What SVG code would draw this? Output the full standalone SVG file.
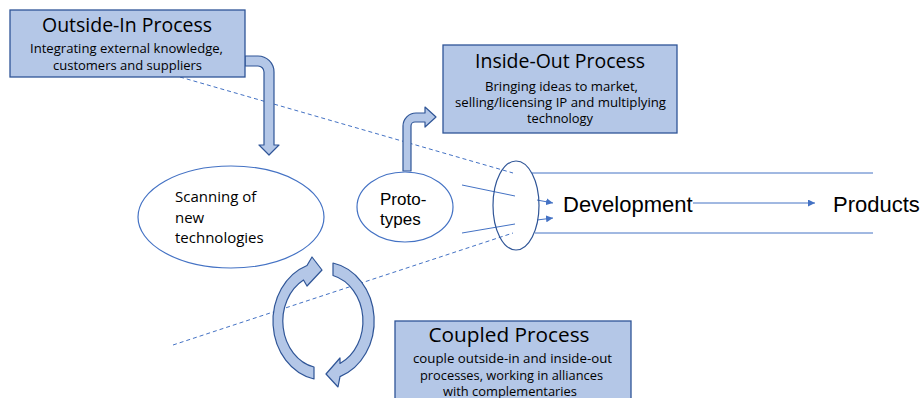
<svg xmlns="http://www.w3.org/2000/svg" width="922" height="398" viewBox="0 0 922 398">
<defs>
<style>
.box{fill:#B4C7E7;stroke:#2F5597;stroke-width:1.3}
.thick{fill:#B4C7E7;stroke:#2F5597;stroke-width:1.2;stroke-linejoin:round}
.ell{fill:#fff;stroke:#4472C4;stroke-width:1.2}
.ln{stroke:#4472C4;stroke-width:1;fill:none}
.dash{stroke:#4472C4;stroke-width:1;fill:none;stroke-dasharray:4 3}
.ttl{font-family:"Open Sans","Liberation Sans",sans-serif;font-size:20px;fill:#000;text-anchor:middle}
.sub{font-family:"Open Sans","Liberation Sans",sans-serif;font-size:12px;fill:#000;text-anchor:middle}
.cal{font-family:"Open Sans","Liberation Sans",sans-serif;font-size:15px;fill:#000}
.ar{font-family:"Liberation Sans",Arial,sans-serif;fill:#000}
</style>
<marker id="ah" viewBox="0 0 10 10" refX="10" refY="5" markerWidth="7" markerHeight="7" markerUnits="userSpaceOnUse" orient="auto">
<path d="M0,0 L10,5 L0,10 Z" fill="#4472C4"/>
</marker>
</defs>
<rect width="922" height="398" fill="#fff"/>

<g id="connectors">
<line class="dash" x1="180" y1="77" x2="513" y2="173"/>
<line class="dash" x1="173" y1="345" x2="513" y2="233"/>
<line class="ln" x1="462" y1="185" x2="515" y2="196"/>
<line class="ln" x1="462" y1="233" x2="515" y2="224"/>
<line class="ln" x1="532" y1="173" x2="873" y2="173"/>
<line class="ln" x1="535" y1="233" x2="873" y2="233"/>
<line class="ln" x1="537" y1="200" x2="553" y2="203" marker-end="url(#ah)"/>
<line class="ln" x1="537" y1="220" x2="553" y2="218" marker-end="url(#ah)"/>
<line class="ln" x1="693" y1="203" x2="815" y2="203" marker-end="url(#ah)"/>
<path id="outside-in-arrow" class="thick" d="M245,56 H258 A16,16 0 0 1 274,72 V145 H279 L269,155 L259,145 H264 V72 A6,6 0 0 0 258,66 H245 Z"/>
<path id="inside-out-arrow" class="thick" d="M403,171 V126 A13,13 0 0 1 416,113 H425 V107 L436,117 L425,127 V122 H415 A4,4 0 0 0 411,126 V171 Z"/>
<path id="cycle-left" class="thick" d="M314,379 A51,59 0 0 1 307,265.5 L312,257 L322,270 L307,286 L303.5,280 A40,47 0 0 0 314,367 Z"/>
<path id="cycle-right" class="thick" d="M333,263 A51,59 0 0 1 340,376.6 L338,387 L326,374 L340,358 L340,363.5 A40,47 0 0 0 333,275.5 Z"/>
</g>

<g id="outside-in">
<rect class="box" x="10" y="10" width="235" height="67"/>
<text class="ttl" x="127" y="32" textLength="170" lengthAdjust="spacingAndGlyphs">Outside-In Process</text>
<text class="sub" x="126.5" y="53" textLength="193" lengthAdjust="spacingAndGlyphs">Integrating external knowledge,</text>
<text class="sub" x="127.5" y="70" textLength="149" lengthAdjust="spacingAndGlyphs">customers and suppliers</text>
</g>

<g id="inside-out">
<rect class="box" x="443" y="45" width="234" height="88"/>
<text class="ttl" x="560" y="68" textLength="170" lengthAdjust="spacingAndGlyphs">Inside-Out Process</text>
<text class="sub" x="561.5" y="91" textLength="153" lengthAdjust="spacingAndGlyphs">Bringing ideas to market,</text>
<text class="sub" x="560.5" y="107" textLength="211" lengthAdjust="spacingAndGlyphs">selling/licensing IP and multiplying</text>
<text class="sub" x="560" y="123" textLength="66" lengthAdjust="spacingAndGlyphs">technology</text>
</g>

<g id="scanning">
<ellipse class="ell" cx="231" cy="217" rx="93" ry="51"/>
<text class="cal" x="175" y="202">Scanning of</text>
<text class="cal" x="175" y="223">new</text>
<text class="cal" x="175" y="243">technologies</text>
</g>

<g id="prototypes">
<ellipse class="ell" cx="405" cy="207" rx="48" ry="35"/>
<text class="ar" x="380" y="205" font-size="17">Proto-</text>
<text class="ar" x="380" y="225" font-size="17">types</text>
</g>

<g id="funnel">
<ellipse cx="516" cy="205.5" rx="23" ry="44.5" fill="none" stroke="#2F5597" stroke-width="1.2"/>
</g>

<g id="development">
<text class="ar" x="563" y="212" font-size="22">Development</text>
</g>

<g id="products">
<text class="ar" x="833" y="212" font-size="22">Products</text>
</g>

<g id="coupled">
<rect class="box" x="395" y="321" width="236" height="90"/>
<text class="ttl" x="509" y="342" textLength="161" lengthAdjust="spacingAndGlyphs">Coupled Process</text>
<text class="sub" x="512.5" y="363" textLength="199" lengthAdjust="spacingAndGlyphs">couple outside-in and inside-out</text>
<text class="sub" x="511.5" y="380" textLength="183" lengthAdjust="spacingAndGlyphs">processes, working in alliances</text>
<text class="sub" x="510" y="396" textLength="134" lengthAdjust="spacingAndGlyphs">with complementaries</text>
</g>
</svg>
